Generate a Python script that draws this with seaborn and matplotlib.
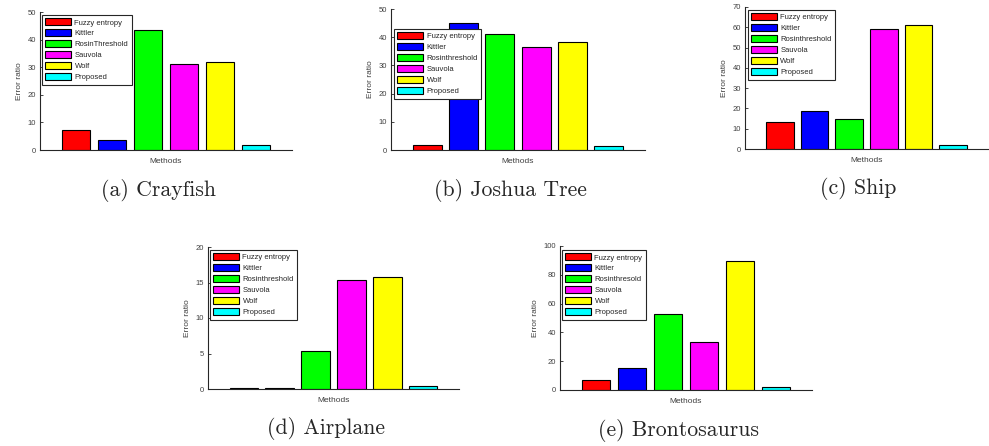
import matplotlib
matplotlib.use("Agg")
import matplotlib.pyplot as plt
import seaborn as sns
import numpy as np

sns.set_style("white")
plt.rcParams['font.family'] = ['Liberation Sans', 'DejaVu Sans']

methods = ["Fuzzy entropy", "Kittler", "RosinThreshold", "Sauvola", "Wolf", "Proposed"]
colors = ["#ff0000", "#0000ff", "#00ff00", "#ff00ff", "#ffff00", "#00ffff"]

crayfish = [7.1, 3.5, 43.5, 31.0, 31.9, 1.8]
joshua = [1.8, 45.0, 41.1, 36.5, 38.2, 1.5]
ship = [13.1, 18.6, 14.7, 59.4, 61.2, 1.8]
airplane = [0.14, 0.14, 5.33, 15.4, 15.8, 0.47]
bronto = [7.2, 15.3, 52.5, 33.3, 89.6, 2.3]

labels_a = methods
labels_bcd = ["Fuzzy entropy", "Kittler", "Rosinthreshold", "Sauvola", "Wolf", "Proposed"]
labels_e = ["Fuzzy entropy", "Kittler", "Rosinthresold", "Sauvola", "Wolf", "Proposed"]

captions = ["(a) Crayfish", "(b) Joshua Tree", "(c) Ship", "(d) Airplane", "(e) Brontosaurus"]

W, H = 989, 446
fig = plt.figure(figsize=(W / 100, H / 100), dpi=100)

# (left, right, top, bottom) in pixels, legend anchor, ymax, yticks
panels = [
    (crayfish, labels_a, (40, 292, 12, 150), (0.008, 0.978), 50, np.arange(0, 51, 10)),
    (joshua, labels_bcd, (391, 645, 9, 150), (0.012, 0.858), 50, np.arange(0, 51, 10)),
    (ship, labels_bcd, (745, 988, 7, 149), (0.012, 0.979), 70, np.arange(0, 71, 10)),
    (airplane, labels_bcd, (208, 459, 247, 389), (0.008, 0.979), 20, np.arange(0, 21, 5)),
    (bronto, labels_e, (560, 812, 246, 390), (0.008, 0.972), 100, np.arange(0, 101, 20)),
]

for (vals, labs, (l, r, t, b), anchor, ymax, yt), cap in zip(panels, captions):
    ax = fig.add_axes([l / W, 1 - b / H, (r - l) / W, (b - t) / H])
    sns.barplot(x=methods, y=vals, hue=methods, palette=colors, width=0.8,
                edgecolor="black", linewidth=0.8, saturation=1, legend=False, ax=ax)
    ax.set_xlim(-1, 6)
    ax.set_ylim(0, ymax)
    ax.set_yticks(yt)
    ax.set_xticks([])
    ax.tick_params(axis="y", direction="in", length=2.5, width=0.6,
                   labelsize=5.5, labelcolor="#404040", color="#262626", pad=3, left=True)
    for s in ["top", "right"]:
        ax.spines[s].set_visible(False)
    for s in ["left", "bottom"]:
        ax.spines[s].set_color("#262626")
        ax.spines[s].set_linewidth(0.8)
    ax.set_xlabel("Methods", fontsize=6, color="#404040", labelpad=6)
    ax.set_ylabel("Error ratio", fontsize=6, color="#404040", labelpad=3)
    handles = list(ax.patches)[:6]
    leg = ax.legend(handles, labs, loc="upper left", bbox_to_anchor=anchor,
                    borderaxespad=0, fontsize=5.5, frameon=True, fancybox=False,
                    framealpha=1, handlelength=3.4, handleheight=1.0, handletextpad=0.4,
                    labelspacing=0.38, borderpad=0.45)
    leg.get_frame().set_edgecolor("#262626")
    leg.get_frame().set_linewidth(0.8)
    cx = (l + r) / 2 / W
    cy = 1 - (b + 40) / H
    fig.text(cx - 0.008, cy, cap, ha="center", va="center", fontsize=15.7, family="cmr10")

fig.savefig("out.png", dpi=100)
